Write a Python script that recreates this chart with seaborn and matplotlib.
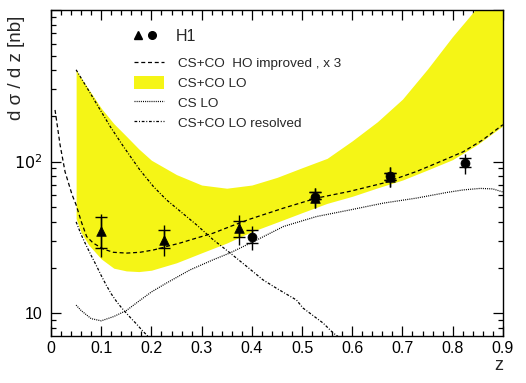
import numpy as np
import matplotlib
matplotlib.use("Agg")
import matplotlib.pyplot as plt
from matplotlib.lines import Line2D
from matplotlib.patches import Patch
from matplotlib.legend_handler import HandlerTuple
from matplotlib.ticker import FixedLocator, MultipleLocator, NullFormatter
import seaborn as sns

# H1 data (triangles and circles)
tri_z = [0.1, 0.225, 0.375, 0.525, 0.675]
tri_y = [34.6, 30.5, 36.4, 57.5, 79.5]
tri_stat_lo = [27.1, 26.8, 32.0, 56.5, 75.0]
tri_stat_hi = [43.4, 35.1, 40.6, 62.8, 84.5]
tri_tot_lo = [23.6, 23.9, 28.2, 49.3, 67.7]
tri_tot_hi = [45.2, 38.2, 44.5, 67.3, 91.8]

circ_z = [0.4, 0.525, 0.675, 0.825]
circ_y = [32.0, 58.7, 80.5, 98.4]
circ_stat_lo = [29.0, 56.5, 75.0, 92.7]
circ_stat_hi = [35.4, 62.8, 84.5, 105.0]
circ_tot_lo = [26.2, 49.3, 67.7, 83.0]
circ_tot_hi = [37.7, 67.3, 91.8, 112.0]

# CS+CO HO improved, x 3
ho_z = [0.008, 0.018, 0.028, 0.042, 0.05, 0.061, 0.071, 0.084, 0.104, 0.124, 0.151,
        0.177, 0.204, 0.23, 0.257, 0.29, 0.323, 0.357, 0.396, 0.463, 0.529, 0.596,
        0.662, 0.728, 0.768, 0.821, 0.86, 0.9]
ho_y = [219, 129, 85.5, 60.3, 51.8, 39.5, 32.0, 29.0, 26.5, 25.2, 24.9,
        25.2, 26.1, 27.5, 29.0, 31.3, 33.7, 37.3, 41.7, 49.3, 57.4, 63.7,
        72.1, 86.0, 97.6, 116, 139, 175]

# CS+CO LO band
band_z = [0.05, 0.06, 0.075, 0.1, 0.125, 0.15, 0.175, 0.2, 0.25, 0.3, 0.35, 0.4,
          0.45, 0.5, 0.55, 0.6, 0.65, 0.7, 0.75, 0.8, 0.85, 0.9]
band_hi = [403, 356, 300, 225, 178, 147, 121, 102, 82, 70, 66.7, 70,
           78.6, 91, 105, 137, 183, 258, 408, 669, 1050, 1600]
band_lo = [42, 34, 28.2, 22.8, 19.8, 19.0, 18.8, 19.2, 21.5, 25.0, 29.0, 34.5,
           39.8, 46, 53, 59, 67, 75.5, 88, 103, 130, 172]

# CS LO
cs_z = [0.05, 0.06, 0.08, 0.1, 0.125, 0.15, 0.175, 0.2, 0.23, 0.277, 0.323, 0.357,
        0.41, 0.463, 0.529, 0.596, 0.662, 0.728, 0.788, 0.821, 0.855, 0.88, 0.9]
cs_y = [11.3, 10.4, 9.2, 8.9, 9.5, 10.4, 12.0, 13.8, 15.8, 19.3, 22.5, 25.0,
        30.4, 37.3, 43.4, 48.0, 53.2, 57.4, 62.5, 65.0, 66.5, 66.0, 63.0]

# CS+CO LO resolved (upper and lower)
res1_z = [0.05, 0.078, 0.098, 0.118, 0.144, 0.177, 0.204, 0.23, 0.257, 0.29, 0.323,
          0.357, 0.39, 0.422, 0.449, 0.489, 0.502, 0.542, 0.562, 0.58]
res1_y = [403, 283, 219, 170, 126, 88, 68.4, 55.9, 47.1, 38.2, 30.5,
          24.9, 20.3, 16.6, 14.6, 12.2, 10.8, 8.6, 7.4, 6.7]
res2_z = [0.05, 0.06, 0.07, 0.08, 0.09, 0.1, 0.11, 0.12, 0.13, 0.14, 0.15, 0.16,
          0.17, 0.18, 0.19, 0.2]
res2_y = [40, 33, 28, 24, 20.7, 17.7, 15.3, 13.4, 12.0, 10.9, 10.0, 9.2,
          8.5, 7.8, 7.2, 6.7]

sns.set_style("ticks")
plt.rcParams["font.family"] = ["Liberation Sans", "DejaVu Sans"]

fig = plt.figure(figsize=(5.26, 3.83), dpi=100)
ax = fig.add_axes([0.097, 0.1235, 0.859, 0.8505])

yellow = "#f5f516"
ax.fill_between(band_z, band_lo, band_hi, color=yellow, lw=0, zorder=1)

ho_ls = (0, (3.2, 2.2))
cs_ls = (0, (0.8, 0.9))
res_ls = (0, (2.2, 1.4, 0.8, 1.4))
lw = 0.9

sns.lineplot(x=ho_z, y=ho_y, ax=ax, color="black", lw=lw, linestyle=ho_ls, zorder=3)
sns.lineplot(x=cs_z, y=cs_y, ax=ax, color="black", lw=lw, linestyle=cs_ls, zorder=3)
sns.lineplot(x=res1_z, y=res1_y, ax=ax, color="black", lw=lw, linestyle=res_ls, zorder=3)
sns.lineplot(x=res2_z, y=res2_y, ax=ax, color="black", lw=lw, linestyle=res_ls, zorder=3)

# error bars: full line to total error, caps at stat error
for z, y, slo, shi, tlo, thi in [(tri_z, tri_y, tri_stat_lo, tri_stat_hi, tri_tot_lo, tri_tot_hi),
                                 (circ_z, circ_y, circ_stat_lo, circ_stat_hi, circ_tot_lo, circ_tot_hi)]:
    y = np.array(y)
    ax.errorbar(z, y, yerr=[y - np.array(tlo), np.array(thi) - y], fmt="none",
                ecolor="black", elinewidth=1.0, capsize=0, zorder=4)
    ax.errorbar(z, y, yerr=[y - np.array(slo), np.array(shi) - y], fmt="none",
                ecolor="black", elinewidth=1.0, capsize=4, capthick=1.0, zorder=4)

sns.scatterplot(x=tri_z, y=tri_y, ax=ax, marker="^", s=48, color="black",
                edgecolor="black", linewidth=0.5, zorder=5)
sns.scatterplot(x=circ_z, y=circ_y, ax=ax, marker="o", s=42, color="black",
                edgecolor="black", linewidth=0.5, zorder=5)

ax.set_yscale("log")
ax.set_xlim(0, 0.9)
ax.set_ylim(7.1, 1000)

ax.xaxis.set_minor_locator(MultipleLocator(0.02))
ax.set_xticks(np.arange(0, 0.91, 0.1))
ax.set_xticklabels(["0", "0.1", "0.2", "0.3", "0.4", "0.5", "0.6", "0.7", "0.8", "0.9"])
ax.yaxis.set_major_locator(FixedLocator([10, 100, 1000]))
ax.set_yticklabels(["10", "$10^2$", ""])
ax.yaxis.set_minor_locator(FixedLocator([8, 9, 20, 30, 40, 50, 60, 70, 80, 90,
                                         200, 300, 400, 500, 600, 700, 800, 900]))
ax.yaxis.set_minor_formatter(NullFormatter())

ax.tick_params(which="both", direction="in", top=True, right=True, width=0.9,
               colors="black", labelsize=11.5)
ax.tick_params(which="major", length=7)
ax.tick_params(which="minor", length=3.6)
ax.tick_params(axis="x", pad=4)
ax.tick_params(axis="y", pad=6)
for s in ax.spines.values():
    s.set_linewidth(1.0)
    s.set_color("black")

ax.set_ylabel("d σ / d z [nb]", fontsize=13.5)
ax.yaxis.set_label_coords(-0.058, 0.823)
ax.set_xlabel("z", fontsize=13, ha="right")
ax.xaxis.set_label_coords(1.0, -0.065)

# legends
h1 = (Line2D([], [], marker="^", color="black", ls="none", ms=5.5),
      Line2D([], [], marker="o", color="black", ls="none", ms=5.5))
leg1 = ax.legend([h1], ["H1"], handler_map={tuple: HandlerTuple(ndivide=None, pad=0.3)},
                 loc="upper left", bbox_to_anchor=(133 / 526, 1 - 29 / 383),
                 bbox_transform=fig.transFigure, frameon=False, fontsize=11.5,
                 handlelength=1.5, handletextpad=1.2, borderpad=0, borderaxespad=0)
ax.add_artist(leg1)

handles = [Line2D([], [], color="black", lw=lw, ls=ho_ls),
           Patch(facecolor=yellow, edgecolor="none"),
           Line2D([], [], color="black", lw=lw, ls=cs_ls),
           Line2D([], [], color="black", lw=lw, ls=res_ls)]
labels = ["CS+CO  HO improved , x 3", "CS+CO LO", "CS LO", "CS+CO LO resolved"]
ax.legend(handles, labels, loc="upper left", bbox_to_anchor=(134 / 526, 1 - 56 / 383),
          bbox_transform=fig.transFigure, frameon=False, fontsize=9.7,
          handlelength=2.25, handleheight=1.1, handletextpad=1.0, labelspacing=0.44,
          borderpad=0, borderaxespad=0)

fig.savefig("out.png", dpi=100)
